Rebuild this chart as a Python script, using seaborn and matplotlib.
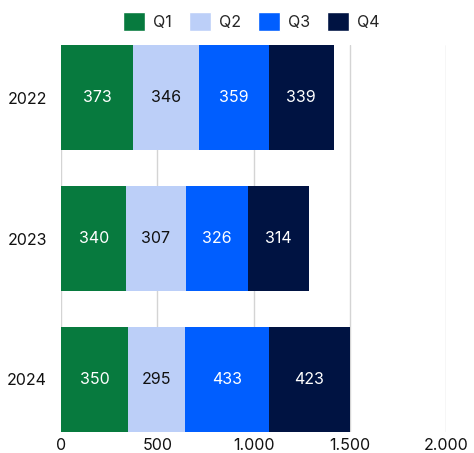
import matplotlib
matplotlib.use("Agg")
import matplotlib.pyplot as plt
import seaborn as sns
import pandas as pd
import numpy as np
from matplotlib.patches import Patch

years = ["2022", "2023", "2024"]
quarters = ["Q1", "Q2", "Q3", "Q4"]
q1 = [373, 340, 350]
q2 = [346, 307, 295]
q3 = [359, 326, 433]
q4 = [339, 314, 423]
colors = ["#077a3e", "#bccff8", "#005eff", "#001342"]
text_colors = ["white", "#111111", "white", "white"]
xticks = [0, 500, 1000, 1500, 2000]
xtick_labels = ["0", "500", "1.000", "1.500", "2.000"]

sns.set_style("white")
plt.rcParams["font.family"] = ["Inter", "DejaVu Sans"]

fig = plt.figure(figsize=(4.74, 4.53), dpi=100)
ax = fig.add_axes([61/474, 1-432/453, (446-61)/474, (432-45)/453])

series = [q1, q2, q3, q4]
left = np.zeros(len(years))
for name, vals, col, tc in zip(quarters, series, colors, text_colors):
    df = pd.DataFrame({"year": years, "value": vals})
    sns.barplot(data=df, y="year", x="value", orient="h", color=col,
                left=left, width=0.745, ax=ax, saturation=1, zorder=3,
                linewidth=0, edgecolor="none")
    for i, v in enumerate(vals):
        ax.text(left[i] + v/2, i, f"{v}", ha="center", va="center",
                color=tc, fontsize=11.5, zorder=4)
    left = left + np.array(vals)

ax.set_xlim(0, 2000)
ax.set_ylim(2.3725, -0.3725)
ax.set_xticks(xticks)
ax.set_xticklabels(xtick_labels, fontsize=11.5, color="#111111")
ax.tick_params(axis="y", labelsize=11.5, colors="#111111", length=0, pad=10)
ax.tick_params(axis="x", length=0, pad=4)
ax.set_xlabel("")
ax.set_ylabel("")
ax.grid(axis="x", color="#d4d4d4", linewidth=1, zorder=0)
ax.set_axisbelow(True)
for s in ax.spines.values():
    s.set_visible(False)

handles = [Patch(facecolor=c, label=q) for c, q in zip(colors, quarters)]
fig.legend(handles=handles, loc="upper center", bbox_to_anchor=(0.53, 1.005),
           ncol=4, frameon=False, fontsize=11.5, handlelength=1.4,
           handleheight=1.4, handletextpad=0.5, columnspacing=1.05)

fig.savefig("out.png", dpi=100)
